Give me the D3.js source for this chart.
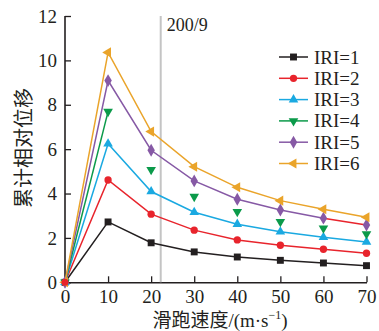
<!DOCTYPE html>
<html>
<head>
<meta charset="utf-8">
<script src="https://cdn.jsdelivr.net/npm/d3@7"></script>
<style>
  html, body { margin: 0; padding: 0; background: #fff; }
  svg { display: block; }
  text { font-family: "Liberation Serif", "DejaVu Serif", serif; fill: #231f20; }
  .cjk { font-family: "Noto Sans CJK SC", sans-serif; }
</style>
</head>
<body>
<svg id="chart" width="379" height="331"></svg>
<script>
// Sliding speed (m/s)
const speeds = [0, 10, 20, 30, 40, 50, 60, 70];
// Cumulative relative displacement for each IRI level
const iri1 = [0, 2.72, 1.78, 1.37, 1.14, 0.99, 0.87, 0.75];
const iri2 = [0, 4.61, 3.07, 2.35, 1.91, 1.67, 1.49, 1.31];
const iri3 = [0, 6.24, 4.09, 3.16, 2.62, 2.28, 2.03, 1.82];
const iri4 = [0, 7.69, 5.07, 3.86, 3.18, 2.73, 2.44, 2.18];
const iri5 = [0, 9.09, 5.95, 4.57, 3.74, 3.26, 2.89, 2.58];
const iri6 = [0, 10.36, 6.79, 5.21, 4.28, 3.68, 3.29, 2.93];
const seriesNames = ["IRI=1", "IRI=2", "IRI=3", "IRI=4", "IRI=5", "IRI=6"];
const xTicks = [0, 10, 20, 30, 40, 50, 60, 70];
const yTicks = [0, 2, 4, 6, 8, 10, 12];
const markLineX = 200 / 9;
const markLineLabel = "200/9";

const colors = ["#231f20", "#e8242c", "#1aa9e1", "#0b9a4a", "#8659a5", "#eaa42a"];
const symbols = [d3.symbolSquare, d3.symbolCircle, "up", "down", d3.symbolDiamond, "left"];
// IRI=4 is connected only over its first interval; the rest are shown as points
const lineExtent = [null, null, null, 2, null, null];

const data = [iri1, iri2, iri3, iri4, iri5, iri6];

const svg = d3.select("#chart");
const x = d3.scaleLinear().domain([0, 70]).range([65, 366.5]);
const y = d3.scaleLinear().domain([0, 12]).range([282.3, 16]);

// axes with inward ticks
const xAxis = svg.append("g").attr("transform", `translate(0,${y(0)})`)
  .call(d3.axisBottom(x).tickValues(xTicks).tickSize(-6).tickPadding(9).tickSizeOuter(0));
const yAxis = svg.append("g").attr("transform", `translate(${x(0)},0)`)
  .call(d3.axisLeft(y).tickValues(yTicks).tickSize(-6).tickPadding(8).tickSizeOuter(0));
[xAxis, yAxis].forEach(g => {
  g.select(".domain").attr("stroke", "#231f20").attr("stroke-width", 1.6);
  g.selectAll(".tick line").attr("stroke", "#231f20").attr("stroke-width", 1.3);
  g.selectAll(".tick text").attr("font-size", 19).attr("font-family", "Liberation Serif").attr("fill", "#231f20");
});
xAxis.selectAll(".tick text").attr("dy", "0.6em");
yAxis.select(".domain").attr("d", `M0,${y(0)}V${y(12)}`);

// reference line
svg.append("line")
  .attr("x1", x(markLineX)).attr("x2", x(markLineX))
  .attr("y1", y(12)).attr("y2", y(0))
  .attr("stroke", "#c4c4c4").attr("stroke-width", 2);
svg.append("text").attr("x", x(markLineX) + 6).attr("y", 31)
  .attr("font-size", 18).text(markLineLabel);

function markerPath(kind, size) {
  if (kind === "up" || kind === "down" || kind === "left") return d3.symbol(d3.symbolTriangle, size)();
  return d3.symbol(kind, size)();
}
function markerRotate(kind) {
  if (kind === "down") return 180;
  if (kind === "left") return -90;
  return 0;
}
const sizes = [48, 42, 40, 40, 48, 44];

const line = d3.line().x((d, i) => x(speeds[i])).y(d => y(d));

data.forEach((vals, s) => {
  const g = svg.append("g");
  const n = lineExtent[s] || vals.length;
  const pts = vals.slice(0, n);
  if (s === 4) {
    // last interval of IRI=5 is drawn in the IRI=2 colour
    g.append("path").attr("d", line(pts.slice(0, 7))).attr("fill", "none")
      .attr("stroke", colors[s]).attr("stroke-width", 1.5);
    g.append("line").attr("x1", x(speeds[6])).attr("y1", y(vals[6]))
      .attr("x2", x(speeds[7])).attr("y2", y(vals[7]))
      .attr("stroke", colors[1]).attr("stroke-width", 1.5);
  } else {
    g.append("path").attr("d", line(pts)).attr("fill", "none")
      .attr("stroke", colors[s]).attr("stroke-width", 1.5);
  }
  g.selectAll("path.m").data(vals).join("path").attr("class", "m")
    .attr("d", markerPath(symbols[s], sizes[s]))
    .attr("transform", (d, i) => `translate(${x(speeds[i])},${y(d)}) rotate(${markerRotate(symbols[s])})`)
    .attr("fill", colors[s]);
});
// origin marker on top
svg.append("circle").attr("cx", x(0)).attr("cy", y(0)).attr("r", 3.5).attr("fill", colors[1]);

// legend
const legend = svg.append("g");
seriesNames.forEach((name, s) => {
  const ly = 57 + s * 21.3;
  legend.append("line").attr("x1", 279).attr("x2", 308).attr("y1", ly).attr("y2", ly)
    .attr("stroke", colors[s]).attr("stroke-width", 1.5);
  legend.append("path").attr("d", markerPath(symbols[s], sizes[s]))
    .attr("transform", `translate(293.5,${ly}) rotate(${markerRotate(symbols[s])})`)
    .attr("fill", colors[s]);
  legend.append("text").attr("x", 314).attr("y", ly + 6.5).attr("font-size", 19).text(name);
});

// axis titles
svg.append("text").attr("class", "cjk")
  .attr("transform", `translate(31,148) rotate(-90)`)
  .attr("text-anchor", "middle").attr("font-size", 20).attr("fill", "#231f20")
  .text("累计相对位移");

const xt = svg.append("text").attr("x", 220).attr("y", 327).attr("text-anchor", "middle")
  .attr("font-size", 19);
xt.append("tspan").attr("class", "cjk").attr("font-size", 19).text("滑跑速度");
xt.append("tspan").text("/(m·s");
xt.append("tspan").attr("font-size", 12).attr("dy", -8).text("−1");
xt.append("tspan").attr("dy", 8).text(")");
</script>
</body>
</html>
